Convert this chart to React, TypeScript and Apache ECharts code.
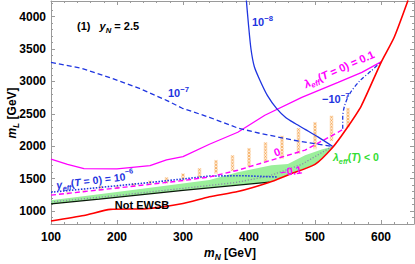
import React, { useEffect, useRef } from 'react';
import * as echarts from 'echarts';

const X_MIN = 100;
const X_MAX = 650;
const Y_MIN = 800;
const Y_MAX = 4240;

const xMajorTicks = [100, 200, 300, 400, 500, 600];
const yMajorTicks = [1000, 1500, 2000, 2500, 3000, 3500, 4000];

const redBoundary = [[100, 846], [150, 930], [190, 1025], [245, 1035], [300, 1115], [340, 1220], [383, 1300], [430, 1440], [460, 1560], [500, 1720], [527, 1985], [545, 2230], [570, 2620], [600, 3290], [620, 3680], [641, 4250]];
const lambda01 = [[100, 1800], [125, 1720], [150, 1655], [200, 1650], [250, 1700], [275, 1790], [300, 1840], [340, 2030], [383, 2215], [424, 2477], [480, 2754], [535, 2985], [571, 3138], [600, 3300]];
const gamma1e8 = [[396, 4250], [399, 3900], [403, 3500], [408, 3230], [416, 3030], [428, 2780], [442, 2580], [456, 2440], [470, 2350], [485, 2260], [505, 2140], [527, 1995]];
const gamma1e7 = [[100, 3292], [147, 3200], [188, 3062], [234, 2892], [275, 2708], [299, 2585], [340, 2446], [383, 2280], [416, 2200], [466, 2095], [527, 1995]];
const gammaNeg1e7 = [[542, 2270], [542, 2450], [545, 2630], [553, 2815], [568, 3010], [585, 3160], [600, 3300]];
const lambda0 = [[100, 1245], [200, 1355], [300, 1470], [340, 1525], [383, 1630], [434, 1785], [485, 1940], [535, 2215], [545, 2275]];
const gamma1e6 = [[100, 1290], [150, 1340], [200, 1390], [250, 1440], [300, 1495], [340, 1540], [390, 1545], [443, 1525]];
const lambdaNeg01 = [[100, 1140], [200, 1240], [300, 1350], [380, 1440], [430, 1540], [480, 1720], [525, 1990]];
const ewsbLine = [[100, 1110], [173, 1185], [300, 1320], [431, 1446]];
const greenTop = [[100, 1165], [173, 1260], [250, 1360], [340, 1480], [383, 1600], [434, 1705], [459, 1725], [485, 1860], [510, 1950], [527, 1995]];
const greenBottom = [[100, 1110], [173, 1185], [300, 1320], [431, 1446], [460, 1560], [500, 1720], [527, 1985]];

const hatchX = [125, 150, 175, 200, 225, 250, 275, 300, 325, 350, 375, 400, 425, 450, 475, 500, 525, 550];
const hatchLo = [1270, 1300, 1310, 1345, 1375, 1400, 1430, 1460, 1495, 1570, 1615, 1690, 1740, 1800, 1880, 1950, 2090, 2290];
const hatchHi = [1300, 1330, 1390, 1385, 1430, 1470, 1520, 1580, 1660, 1785, 1860, 1970, 2060, 2160, 2280, 2370, 2470, 2590];

const FONT = '"Liberation Sans", Arial, sans-serif';
const BLUE = '#1f35e0';
const MAGENTA = '#ff00ff';
const RED = '#ff0000';
const FRAME = '#9a9a9a';

function richSet(color: string, size: number) {
  return {
    n: { fill: color, fontSize: size, fontWeight: 'bold', fontFamily: FONT, lineHeight: 16 },
    i: { fill: color, fontSize: size, fontWeight: 'bold', fontStyle: 'italic', fontFamily: FONT, lineHeight: 16 },
    sub: { fill: color, fontSize: size * 0.7, fontWeight: 'bold', fontStyle: 'italic', fontFamily: FONT, lineHeight: 8, verticalAlign: 'bottom' },
    sup: { fill: color, fontSize: size * 0.7, fontWeight: 'bold', fontFamily: FONT, lineHeight: 8, verticalAlign: 'top' },
  };
}

function label(text: string, x: number, y: number, color: string, size: number, align: string, rotation = 0) {
  return {
    type: 'text',
    x,
    y,
    rotation,
    z: 100,
    silent: true,
    style: {
      text,
      rich: richSet(color, size),
      fill: color,
      font: `bold ${size}px ${FONT}`,
      align,
      verticalAlign: 'middle',
    },
  };
}

function xAxisDef(position: string, withLabels: boolean) {
  return {
    type: 'value',
    position,
    min: X_MIN,
    max: X_MAX,
    interval: 100,
    axisLine: { show: true, onZero: false, lineStyle: { color: FRAME, width: 1 } },
    axisTick: { show: true, inside: true, length: 4, lineStyle: { color: FRAME } },
    minorTick: { show: true, splitNumber: 5, length: 2, lineStyle: { color: FRAME } },
    splitLine: { show: false },
    minorSplitLine: { show: false },
    axisLabel: {
      show: withLabels,
      color: '#000',
      fontWeight: 'bold',
      fontSize: 12,
      fontFamily: FONT,
      margin: 7,
      showMaxLabel: false,
      formatter: (v: number) => (xMajorTicks.includes(v) ? String(v) : ''),
    },
  };
}

function yAxisDefs(position: string, withLabels: boolean) {
  return [
    {
      type: 'value',
      position,
      min: Y_MIN,
      max: Y_MAX,
      axisLine: { show: true, onZero: false, lineStyle: { color: FRAME, width: 1 } },
      axisTick: { show: true, inside: true, length: 4, customValues: yMajorTicks, lineStyle: { color: FRAME } },
      splitLine: { show: false },
      axisLabel: {
        show: withLabels,
        customValues: yMajorTicks,
        color: '#000',
        fontWeight: 'bold',
        fontSize: 12,
        fontFamily: FONT,
        margin: 5,
        formatter: (v: number) => String(v),
      },
    },
    {
      type: 'value',
      position,
      min: Y_MIN,
      max: Y_MAX,
      interval: 100,
      axisLine: { show: false },
      axisTick: { show: true, inside: true, length: 2, lineStyle: { color: FRAME } },
      splitLine: { show: false },
      axisLabel: { show: false },
    },
  ];
}

function lineSeries(data: number[][], color: string, type: any, width: number, z: number, smooth: number | boolean = false) {
  return {
    type: 'line',
    data,
    showSymbol: false,
    symbol: 'none',
    smooth,
    silent: true,
    clip: true,
    z,
    lineStyle: { color, width, type },
  };
}

export default function App() {
  const ref = useRef<HTMLDivElement>(null);

  useEffect(() => {
    const chart = echarts.init(ref.current!, null, { renderer: 'svg' });

    const greenPoly = greenTop.concat(greenBottom.slice().reverse());
    const hatchData = hatchX.map((x, i) => [x, hatchLo[i], hatchHi[i]]);

    const option: any = {
      animation: false,
      backgroundColor: '#fff',
      grid: { left: 51, right: 1, top: 1, bottom: 40, containLabel: false },
      xAxis: [xAxisDef('bottom', true), xAxisDef('top', false)],
      yAxis: [...yAxisDefs('left', true), ...yAxisDefs('right', false)],
      series: [
        {
          type: 'custom',
          silent: true,
          z: 1,
          data: [0],
          renderItem: (params: any, api: any) => ({
            type: 'polygon',
            shape: { points: greenPoly.map((p) => api.coord(p)) },
            style: { fill: '#9bef9b', stroke: 'none' },
          }),
        },
        {
          type: 'custom',
          silent: true,
          z: 3,
          data: hatchData,
          renderItem: (params: any, api: any) => {
            const x = api.value(0);
            const pLo = api.coord([x, api.value(1)]);
            const pHi = api.coord([x, api.value(2)]);
            const cx = pLo[0];
            const children: any[] = [
              {
                type: 'rect',
                shape: { x: cx - 2, y: pHi[1], width: 4, height: Math.max(pLo[1] - pHi[1], 3) },
                style: { fill: '#feebd6' },
              },
            ];
            for (let yy = pHi[1] + 1.5; yy <= pLo[1] - 0.5; yy += 3.2) {
              children.push({
                type: 'line',
                shape: { x1: cx - 1.2, y1: yy - 1.1, x2: cx + 1.2, y2: yy + 1.1 },
                style: { stroke: '#f4a452', lineWidth: 0.8 },
              });
              children.push({
                type: 'line',
                shape: { x1: cx - 1.2, y1: yy + 1.1, x2: cx + 1.2, y2: yy - 1.1 },
                style: { stroke: '#f4a452', lineWidth: 0.8 },
              });
            }
            return { type: 'group', children };
          },
        },
        lineSeries(lambdaNeg01, '#8c8aa8', [1.2, 1.8], 1.3, 4),
        lineSeries(ewsbLine, '#0a1a0a', 'solid', 1.3, 5),
        lineSeries(gamma1e6, BLUE, [1.5, 1.5], 1.6, 6),
        lineSeries(lambda0, MAGENTA, [5, 3], 1.4, 6),
        lineSeries(lambda01, MAGENTA, 'solid', 1.3, 6),
        lineSeries(gamma1e7, BLUE, [5, 3], 1.3, 6),
        lineSeries(gammaNeg1e7, BLUE, [4, 2, 1, 2], 1.3, 6, 0.3),
        lineSeries(gamma1e8, BLUE, 'solid', 1.3, 6, 0.25),
        lineSeries(redBoundary, RED, 'solid', 1.6, 7, 0.2),
      ],
      graphic: [
        label('{n|(1)}   {i|y}{sub|N}{n| = 2.5}', 77, 26, '#000', 11, 'left'),
        label('{n|10}{sup|−8}', 252, 22, BLUE, 11, 'left'),
        label('{n|10}{sup|−7}', 168, 93, BLUE, 11, 'left'),
        label('{i|λ}{sub|eff}{n|(}{i|T}{n| = 0) = 0.1}', 339, 69, MAGENTA, 11, 'center', 0.42),
        label('{n|−10}{sup|−7}', 322, 99, BLUE, 11, 'left'),
        label('{i|λ}{sub|eff}{n|(}{i|T}{n|) < 0}', 333, 157, '#33dd33', 10.5, 'left'),
        label('{n|0}', 277, 152, MAGENTA, 11, 'center', 0.35),
        label('{n|−0.1}', 291, 171, MAGENTA, 11, 'center', 0.15),
        label('{i|γ}{sub|eff}{n|(}{i|T}{n| = 0) = 10}{sup|−6}', 95, 180, BLUE, 10.5, 'center', 0.12),
        label('{n|Not EWSB}', 142, 205, '#000', 11, 'center'),
        label('{i|m}{sub|L}{n| [GeV]}', 12, 113, '#000', 12, 'center', Math.PI / 2),
        label('{i|m}{sub|N}{n| [GeV]}', 230, 253, '#000', 12, 'center'),
      ],
    };

    chart.setOption(option);
    return () => chart.dispose();
  }, []);

  return (
    <div
      ref={ref}
      style={{ position: 'fixed', left: 0, top: 0, width: 415, height: 264, background: '#fff' }}
    />
  );
}
